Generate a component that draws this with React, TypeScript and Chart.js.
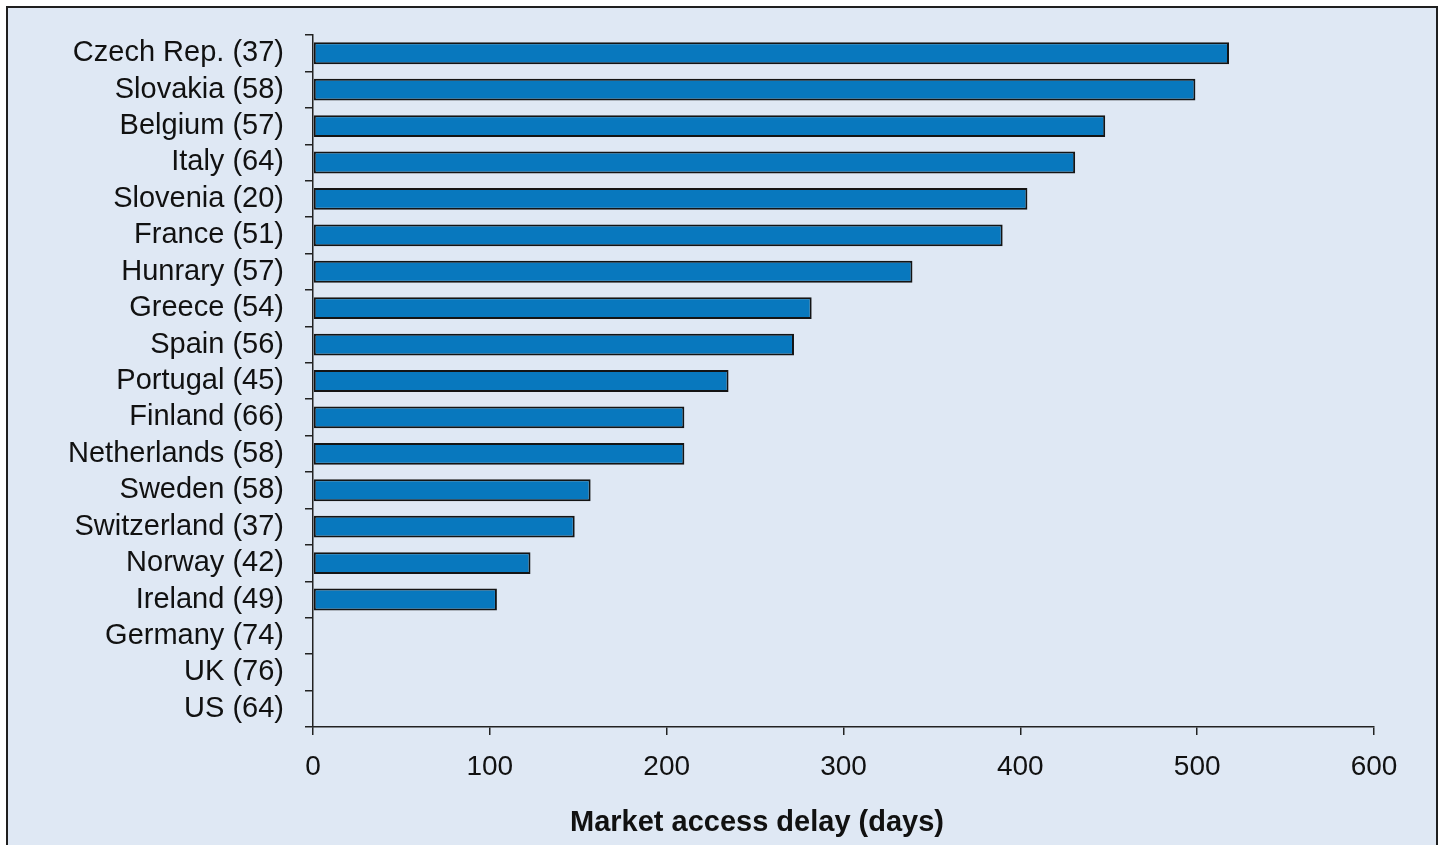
import React, { useEffect, useRef } from "react";
import { Chart, registerables } from "chart.js";

Chart.register(...registerables);

const categories = [
  "Czech Rep. (37)",
  "Slovakia (58)",
  "Belgium (57)",
  "Italy (64)",
  "Slovenia (20)",
  "France (51)",
  "Hunrary (57)",
  "Greece (54)",
  "Spain (56)",
  "Portugal (45)",
  "Finland (66)",
  "Netherlands (58)",
  "Sweden (58)",
  "Switzerland (37)",
  "Norway (42)",
  "Ireland (49)",
  "Germany (74)",
  "UK (76)",
  "US (64)",
];

const delayDays = [518, 499, 448, 431, 404, 390, 339, 282, 272, 235, 210, 210, 157, 148, 123, 104, 0, 0, 0];

const xTicks = [0, 100, 200, 300, 400, 500, 600];

const axisTitle = "Market access delay (days)";

const W = 1442;
const H = 845;
const FONT = "'Liberation Sans', Arial, Helvetica, sans-serif";

const framePlugin = {
  id: "frame",
  beforeDraw(chart: any) {
    const ctx = chart.ctx;
    ctx.save();
    ctx.fillStyle = "#ffffff";
    ctx.fillRect(0, 0, chart.width, chart.height);
    ctx.fillStyle = "#dfe8f4";
    ctx.fillRect(7, 7, 1430, chart.height);
    ctx.strokeStyle = "#1f1f1f";
    ctx.lineWidth = 2;
    ctx.strokeRect(7, 7, 1430, chart.height + 10);
    ctx.restore();
  },
  afterLayout(chart: any) {
    // let the category labels extend to the left of the y scale box
    if (chart.scales.y) chart.scales.y.left = 0;
  },
};

export default function App() {
  const ref = useRef<HTMLCanvasElement | null>(null);
  useEffect(() => {
    if (!ref.current) return;
    const chart = new Chart(ref.current, {
      type: "bar",
      data: {
        labels: categories,
        datasets: [
          {
            data: delayDays,
            backgroundColor: "#0878be",
            borderColor: "#141414",
            borderWidth: 2,
            borderSkipped: false,
            barPercentage: 0.6,
            categoryPercentage: 1,
          },
        ],
      },
      options: {
        indexAxis: "y",
        responsive: false,
        animation: false,
        devicePixelRatio: 1,
        layout: { padding: { top: 35, right: 68, left: 140, bottom: 0 } },
        plugins: {
          legend: { display: false },
          tooltip: { enabled: false },
          title: {
            display: true,
            position: "bottom",
            text: axisTitle,
            color: "#111111",
            font: { family: FONT, size: 29, weight: "bold", lineHeight: 1.2 },
            padding: { top: 6, bottom: 5 },
          },
        },
        scales: {
          y: {
            type: "category",
            offset: true,
            grid: {
              drawOnChartArea: false,
              drawTicks: true,
              tickLength: 8,
              color: "#222222",
              lineWidth: 1.5,
              offset: true,
            },
            border: { color: "#222222", width: 1.5 },
            ticks: {
              padding: 21,
              color: "#111111",
              font: { family: FONT, size: 29 },
              autoSkip: false,
            },
            afterFit(scale: any) {
              scale.width = 173;
              scale.paddingTop = 0;
              scale.paddingBottom = 0;
            },
          },
          x: {
            type: "linear",
            min: 0,
            max: 600,
            afterBuildTicks(scale: any) {
              scale.ticks = xTicks.map((v) => ({ value: v }));
            },
            grid: {
              drawOnChartArea: false,
              drawTicks: true,
              tickLength: 8,
              color: "#222222",
              lineWidth: 1.5,
            },
            border: { color: "#222222", width: 1.5 },
            ticks: {
              padding: 15,
              color: "#111111",
              maxRotation: 0,
              font: { family: FONT, size: 28 },
            },
            afterFit(scale: any) {
              scale.height = 72.2;
            },
          },
        },
      },
      plugins: [framePlugin],
    });
    return () => chart.destroy();
  }, []);
  return (
    <div style={{ position: "fixed", left: 0, top: 0, width: W, height: H, background: "#fff" }}>
      <canvas ref={ref} width={W} height={H} style={{ width: W, height: H, display: "block" }} />
    </div>
  );
}
